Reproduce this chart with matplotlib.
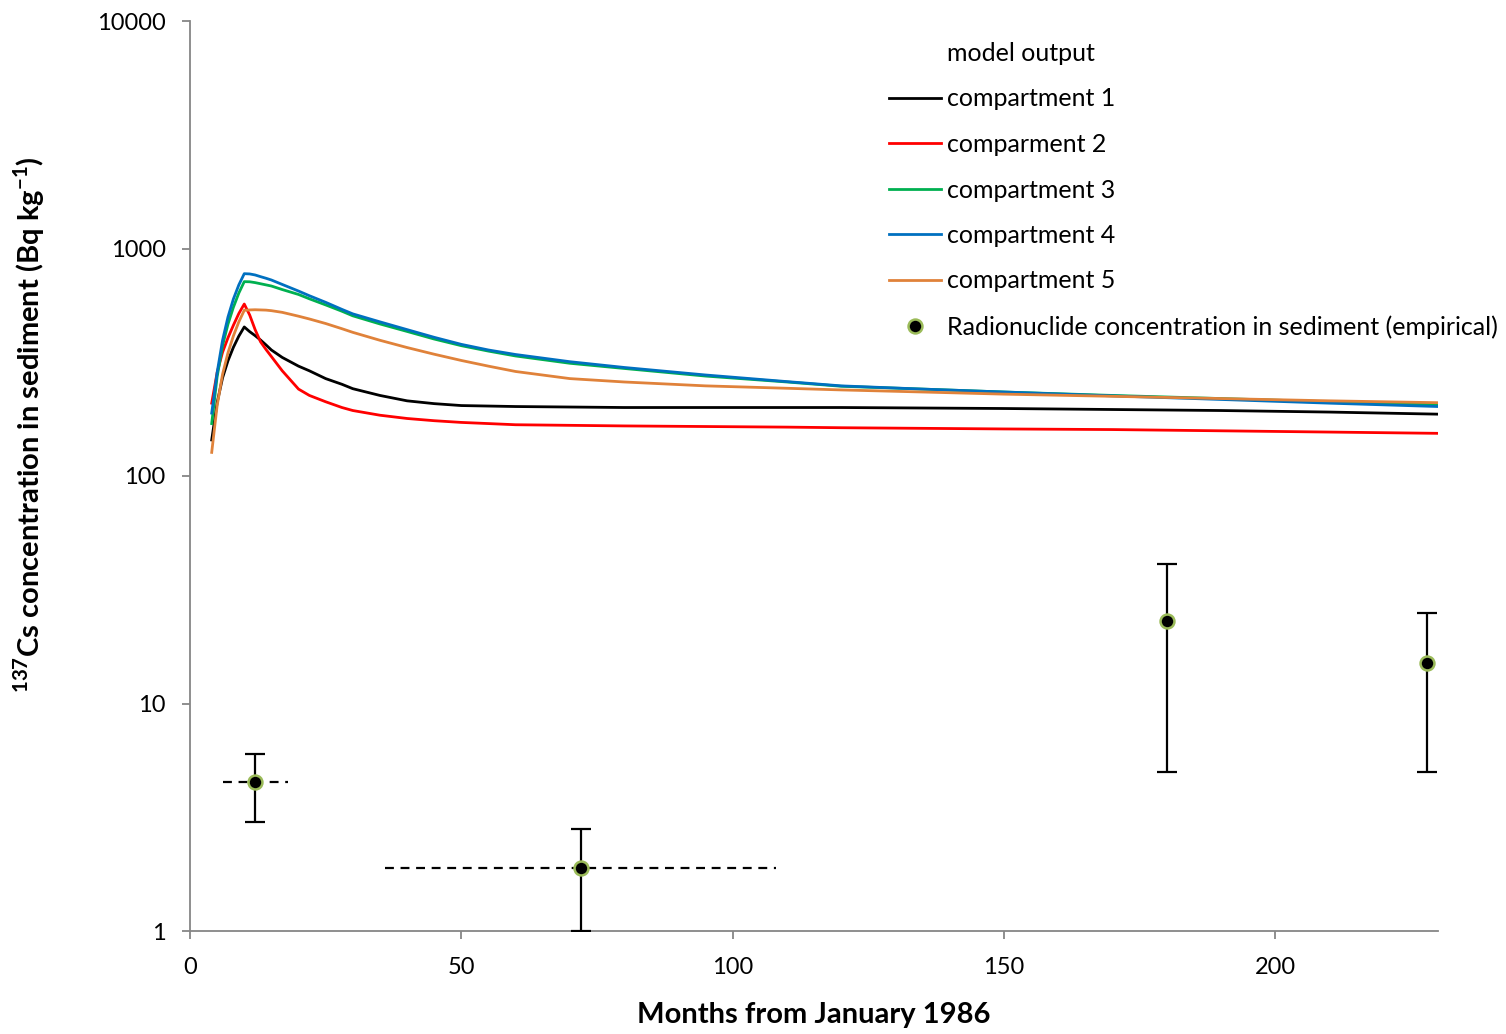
import numpy as np
import matplotlib
matplotlib.use("Agg")
import matplotlib.pyplot as plt
from matplotlib.lines import Line2D

plt.rcParams['font.family'] = ['Lato', 'DejaVu Sans']
plt.rcParams['mathtext.fontset'] = 'custom'
plt.rcParams['mathtext.rm'] = 'Lato:bold'
plt.rcParams['mathtext.bf'] = 'Lato:bold'

# model output, months from Jan 1986
months = [4, 5, 6, 7, 8, 9, 10, 11, 12, 13, 14, 15, 17, 20, 22, 25, 28, 30, 35, 40, 45,
          50, 55, 60, 70, 80, 95, 110, 120, 135, 150, 170, 190, 210, 230]
comp1 = [144, 210, 270, 321, 368, 412, 452, 431, 414, 396, 377, 358, 332, 304, 290, 268, 253, 242, 226, 214, 208,
         204, 203, 202, 201, 200, 200, 200, 200, 199, 198, 196, 194, 191, 187]
comp2 = [209, 285, 350, 405, 460, 518, 570, 510, 440, 389, 360, 335, 290, 241, 226, 212, 200, 194, 185, 179, 175,
         172, 170, 168, 167, 166, 165, 164, 163, 162, 161, 160, 158, 156, 154]
comp3 = [170, 273, 374, 465, 552, 637, 715, 714, 708, 700, 692, 684, 660, 628, 601, 565, 530, 506, 466, 432, 400,
         374, 354, 337, 313, 297, 275, 259, 248, 241, 234, 226, 219, 212, 206]
comp4 = [189, 285, 395, 500, 600, 692, 775, 773, 765, 752, 740, 727, 695, 650, 620, 580, 540, 516, 476, 440, 407,
         379, 358, 342, 318, 300, 278, 260, 249, 241, 234, 225, 217, 209, 202]
comp5 = [127, 204, 280, 348, 413, 476, 535, 537, 538, 537, 536, 533, 524, 504, 490, 468, 444, 428, 395, 367, 343,
         322, 304, 288, 268, 259, 249, 243, 239, 234, 229, 224, 219, 214, 210]

# empirical data
obs_x = [12, 72, 180, 228]
obs_y = [4.5, 1.9, 23, 15]
obs_lo = [3.0, 1.0, 5.0, 5.0]
obs_hi = [6.0, 2.8, 41.0, 25.0]
obs_xerr = [6, 36, 0, 0]

fig = plt.figure(figsize=(15.06, 10.34), dpi=100)
ax = fig.add_axes([190/1506, 1-931/1034, (1438-190)/1506, (931-21)/1034])

series = [comp1, comp2, comp3, comp4, comp5]
colors = ['#000000', '#FF0000', '#00B050', '#0070C0', '#E0823A']
names = ['compartment 1', 'comparment 2', 'compartment 3', 'compartment 4', 'compartment 5']
for s, c in zip(series, colors):
    ax.plot(months, s, color=c, lw=2, solid_joinstyle='round')

yerr = [np.array(obs_y) - np.array(obs_lo), np.array(obs_hi) - np.array(obs_y)]
ax.errorbar(obs_x, obs_y, yerr=yerr, fmt='none', ecolor='black', elinewidth=1.6,
            capsize=7, capthick=1.6, zorder=3)
xe = ax.errorbar(obs_x[:2], obs_y[:2], xerr=obs_xerr[:2], fmt='none', ecolor='black',
                 elinewidth=1.6, capsize=0, zorder=3)
xe[2][0].set_linestyle((0, (4, 3)))
ax.plot(obs_x, obs_y, 'o', ms=10, mfc='black', mec='#9BBB59', mew=1.8, zorder=4)

ax.set_yscale('log')
ax.set_ylim(1, 10000)
ax.set_xlim(0, 230)
ax.set_yticks([1, 10, 100, 1000, 10000])
ax.set_yticklabels(['1', '10', '100', '1000', '10000'])
ax.yaxis.set_minor_locator(matplotlib.ticker.NullLocator())
ax.set_xticks([0, 50, 100, 150, 200])
ax.tick_params(axis='both', colors='#868686', labelcolor='black', labelsize=17, length=6, width=1.3)
ax.tick_params(axis='x', pad=13)
ax.tick_params(axis='y', pad=11.5)
for sp in ['top', 'right']:
    ax.spines[sp].set_visible(False)
for sp in ['left', 'bottom']:
    ax.spines[sp].set_color('#868686')
    ax.spines[sp].set_linewidth(1.3)

ax.set_xlabel('Months from January 1986', fontsize=21, fontweight='bold')
ax.xaxis.set_label_coords(0.5, -0.078)
ax.set_ylabel(r'$^{137}$Cs concentration in sediment (Bq kg$^{-1}$)', fontsize=21, fontweight='bold')
ax.yaxis.set_label_coords(-0.1146, 0.556)

handles = [Line2D([], [], color='none')]
handles += [Line2D([], [], color=c, lw=2) for c in colors]
handles += [Line2D([], [], ls='none', marker='o', ms=10, mfc='black', mec='#9BBB59', mew=1.8)]
labels = ['model output'] + names + ['Radionuclide concentration in sediment (empirical)']
fig.legend(handles, labels, loc='upper left', bbox_to_anchor=(889/1506, 1-42/1034),
           frameon=False, fontsize=18, handlelength=2.08, handletextpad=0.24,
           labelspacing=0.9, borderaxespad=0, borderpad=0)

fig.savefig('out.png', dpi=100)
